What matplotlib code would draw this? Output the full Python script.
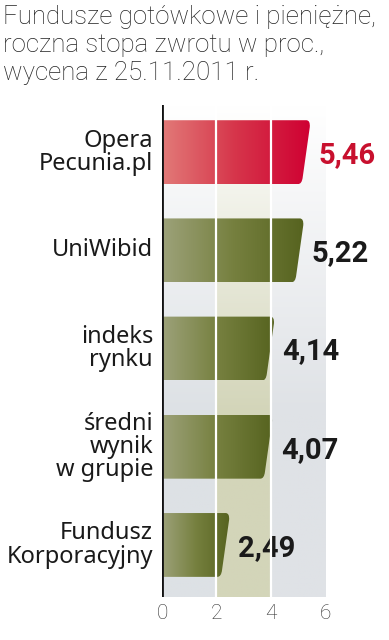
import numpy as np
import matplotlib
matplotlib.use("Agg")
import matplotlib.pyplot as plt
from matplotlib.path import Path
from matplotlib.patches import PathPatch
from matplotlib.colors import LinearSegmentedColormap

title = "Fundusze gotówkowe i pieniężne,\nroczna stopa zwrotu w proc.,\nwycena z 25.11.2011 r."
categories = ["Opera\nPecunia.pl", "UniWibid", "indeks\nrynku",
              "średni\nwynik\nw grupie", "Fundusz\nKorporacyjny"]
values = [5.46, 5.22, 4.14, 4.07, 2.49]
value_labels = ["5,46", "5,22", "4,14", "4,07", "2,49"]
highlight = [True, False, False, False, False]
xticks = [0, 2, 4, 6]

red_cmap = LinearSegmentedColormap.from_list("r", ["#e27a78", "#d6344a", "#cf0032"])
olive_cmap = LinearSegmentedColormap.from_list("o", ["#9da27a", "#76803f", "#56631f"])
band_colors = ["#dde1e5", "#d3d5b9", "#dfe2e6"]

fig = plt.figure(figsize=(3.89, 6.40), dpi=100)
ax = fig.add_axes([162 / 389, 43 / 640, 163 / 389, 492 / 640])
ax.set_xlim(0, 6)
ax.set_ylim(4.53, -0.48)

# background bands fading to white at the top
for i, c in enumerate(band_colors):
    rgb = np.array(matplotlib.colors.to_rgb(c))
    t = np.linspace(0, 1, 200)[:, None]
    t = np.clip(t * 1.6, 0, 1)
    img = (1 - t)[:, :, None] * np.ones(3) + t[:, :, None] * rgb
    ax.imshow(img, extent=[2 * i, 2 * i + 2, 4.53, -0.48], aspect="auto",
              origin="upper", zorder=0)

h = 0.65
slant = 0.3
r = 0.15
for i, (v, hl) in enumerate(zip(values, highlight)):
    y0, y1 = i - h / 2, i + h / 2
    # slanted right edge with rounded corners
    verts = [(0, y0), (v - r, y0), (v, y0), (v - 0.02, y0 + 0.07),
             (v - slant + 0.02, y1 - 0.07), (v - slant - 0.01, y1),
             (v - slant - r, y1), (0, y1), (0, y0)]
    codes = [Path.MOVETO, Path.LINETO, Path.CURVE3, Path.CURVE3,
             Path.LINETO, Path.CURVE3, Path.CURVE3, Path.LINETO, Path.CLOSEPOLY]
    patch = PathPatch(Path(verts, codes), facecolor="none", edgecolor="none")
    ax.add_patch(patch)
    grad = np.linspace(0, 1, 256)[None, :]
    im = ax.imshow(grad, extent=[0, v, y1, y0], aspect="auto",
                   cmap=red_cmap if hl else olive_cmap, zorder=2)
    im.set_clip_path(patch)
    ax.text(v + 0.3, i + 0.03, value_labels[i], ha="left", va="center",
            fontsize=21, fontweight="bold",
            family=["Roboto", "DejaVu Sans"],
            color="#c8102e" if hl else "#1a1a1a", clip_on=False)
    ax.text(-0.33, i, categories[i], ha="right", va="center",
            fontsize=17, family=["Noto Sans", "DejaVu Sans"],
            color="#1a1a1a", linespacing=0.95, transform=ax.transData)

for x in [2, 4]:
    ax.axvline(x, color="white", lw=1.6, zorder=3)
ax.axvline(0, color="#111111", lw=2, zorder=4)

for s in ax.spines.values():
    s.set_visible(False)
ax.set_yticks([])
ax.set_xticks(xticks)
ax.set_xticklabels([str(x) for x in xticks], fontsize=15, color="#333333",
                   family=["Roboto", "DejaVu Sans"], fontweight="light")
ax.tick_params(axis="x", length=0, pad=5)

fig.text(3 / 389, 1 - 5 / 640, title, ha="left", va="top", fontsize=18.6,
         family=["Roboto", "DejaVu Sans"], fontweight="light",
         color="#222222", linespacing=1.22)

fig.savefig("out.png", dpi=100)
